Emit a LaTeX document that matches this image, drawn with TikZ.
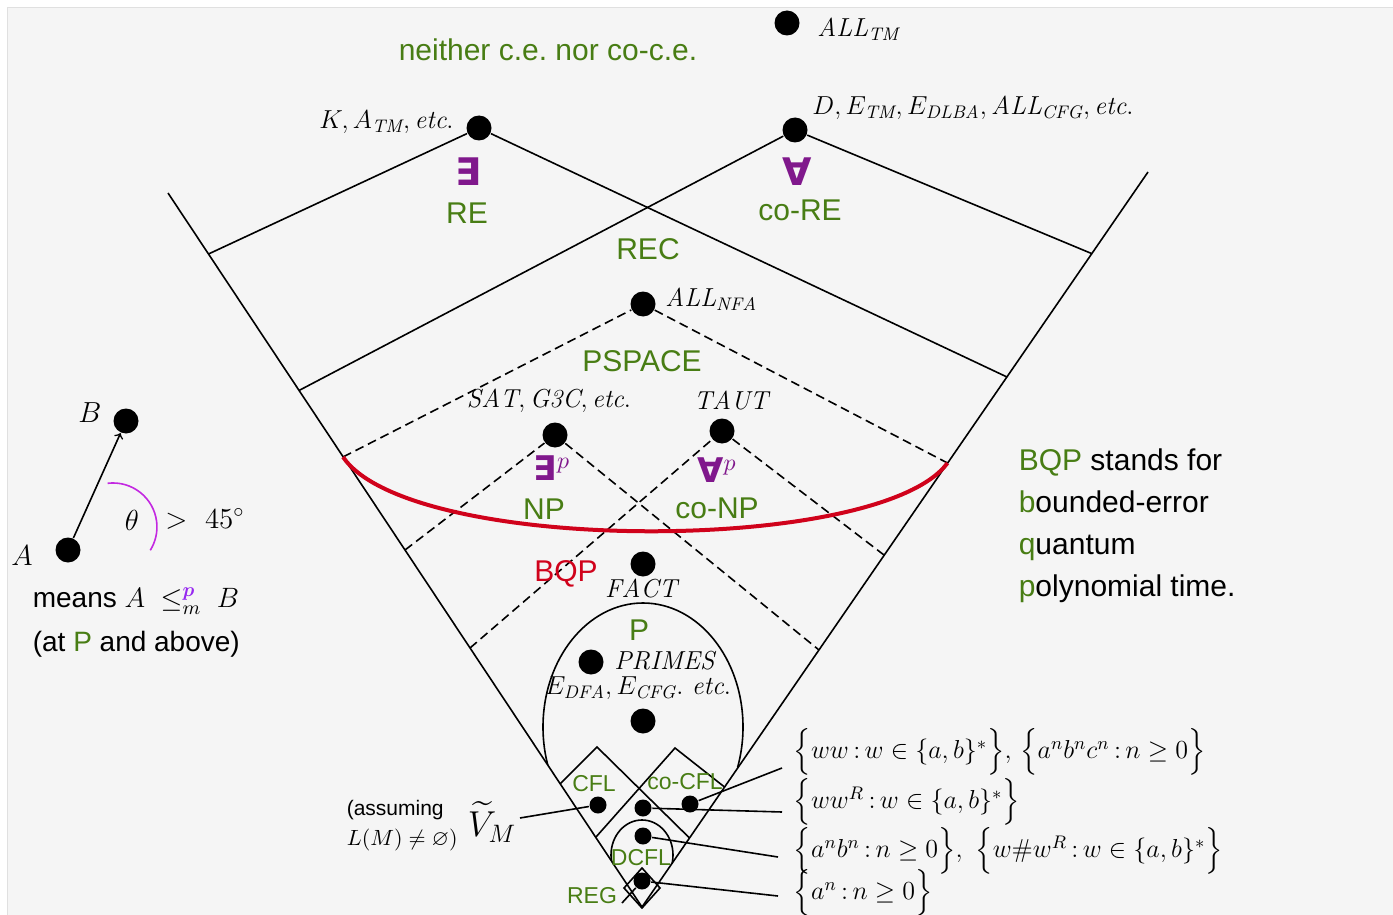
\RequirePackage{fix-cm}
\documentclass[tikz,border=0pt]{standalone}
\usepackage{amsmath,amssymb}
\usepackage{fontspec}
\usepackage{xcolor}
\usepackage{tikz}
\usetikzlibrary{calc,positioning}
\setsansfont{Liberation Sans}
\newfontfamily\quantfont{DejaVu Sans}

\definecolor{cegreen}{RGB}{72,125,20}
\definecolor{qpurple}{RGB}{128,24,140}
\definecolor{bqpred}{RGB}{208,2,27}
\definecolor{argviolet}{RGB}{150,40,240}
\definecolor{angmag}{RGB}{195,40,225}

\begin{document}
\begin{tikzpicture}[x=0.5pt, y=-0.5pt, line width=0.8pt,
    dot/.style={circle, fill, inner sep=0pt, minimum size=12.5pt},
    smalldot/.style={circle, fill, inner sep=0pt, minimum size=8.5pt},
    cls/.style={text=cegreen, font=\sffamily\fontsize{15}{18}\selectfont},
    subcls/.style={text=cegreen, font=\sffamily\fontsize{11.5}{14}\selectfont},
    quant/.style={text=qpurple, font=\quantfont\bfseries\fontsize{19}{22}\selectfont},
    pquant/.style={text=qpurple, font=\quantfont\bfseries\fontsize{17}{20}\selectfont},
    lang/.style={font=\fontsize{13}{16}\selectfont},
    setlang/.style={font=\fontsize{13}{16}\selectfont, anchor=west, inner sep=0pt},
    hier/.style={dash pattern=on 4.5pt off 2.5pt}]

    \useasboundingbox (0,0) rectangle (1393,915);
    \fill[black!4] (7,8) rectangle (1393,915);
    \draw[black!12, line width=0.5pt] (7,915) -- (7,8) -- (1393,8);

    % Dots
    \node[dot] (alltm) at (787,23) {};
    \node[dot] (k) at (479,128) {};
    \node[dot] (d) at (795,130) {};
    \node[dot] (allnfa) at (643,304) {};
    \node[dot] (sat) at (555,435) {};
    \node[dot] (taut) at (722,431) {};
    \node[dot] (fact) at (643,564) {};
    \node[dot] (primes) at (591,662) {};
    \node[dot] (edfa) at (643,721) {};
    \node[smalldot] (cfl) at (598,805) {};
    \node[smalldot] (wwr) at (643,808) {};
    \node[smalldot] (cocfl) at (690,804) {};
    \node[smalldot] (dcfl) at (643,836) {};
    \node[smalldot] (reg) at (642,881) {};

    % Cone
    \coordinate (vl) at (168,193);
    \coordinate (vb) at (642,907);
    \coordinate (vr) at (1148,172);
    \draw (vl) -- (vb) -- (vr);

    % RE, co-RE
    \coordinate (re-l) at (208.5,254);
    \coordinate (re-r) at (1007,377);
    \coordinate (core-l) at (299,390.5);
    \coordinate (core-r) at (1091.5,253.5);
    \draw (re-l) -- (k) -- (re-r);
    \draw (core-l) -- (d) -- (core-r);

    % PSPACE, NP, co-NP
    \coordinate (ps-l) at (343,457);
    \coordinate (ps-r) at (947.5,463);
    \coordinate (np-l) at (405,550);
    \coordinate (np-r) at (819,650);
    \coordinate (conp-l) at (470,648);
    \coordinate (conp-r) at (884,555);
    \draw[hier] (ps-l) -- (allnfa) -- (ps-r);
    \draw[hier] (np-l) -- (sat) -- (np-r);
    \draw[hier] (conp-l) -- (taut) -- (conp-r);

    % BQP
    \draw[bqpred, line width=2pt] (ps-l) .. controls (410,555) and (880,555) .. (ps-r);

    % P
    \begin{scope}
        \clip (vl) -- (vb) -- (vr) -- cycle;
        \clip (500,590) rectangle (790,766);
        \draw (643,727) ellipse [x radius=100, y radius=124];
    \end{scope}

    % CFL, co-CFL
    \coordinate (cfl-t) at (597,747);
    \coordinate (cfl-l) at (560.5,783.5);
    \coordinate (cfl-r) at (689.5,838);
    \coordinate (cocfl-t) at (675,748);
    \coordinate (cocfl-l) at (596,837);
    \coordinate (cocfl-r) at (724.5,787);
    \draw (cfl-l) -- (cfl-t) -- (cfl-r);
    \draw (cocfl-l) -- (cocfl-t) -- (cocfl-r);

    % DCFL
    \begin{scope}
        \clip (vl) -- (vb) -- (vr) -- cycle;
        \clip (600,815) rectangle (690,869);
        \draw (642,855) ellipse [x radius=31, y radius=35];
    \end{scope}

    % REG
    \draw (642,868) -- (660,888) -- (642,908) -- (624,888) -- cycle;

    % Class names
    \node[cls] (neither) at (548,50) {neither c.e.\ nor co-c.e.};
    \node[cls] (re) at (467,213) {RE};
    \node[cls] (core) at (800,210) {co-RE};
    \node[cls] (rec) at (648,249) {REC};
    \node[cls] (pspace) at (642,361) {PSPACE};
    \node[cls] (np) at (544,509) {NP};
    \node[cls] (conp) at (717,508) {co-NP};
    \node[cls] (p) at (639,630) {P};
    \node[cls, text=bqpred] (bqp) at (566,574) {BQP};
    \node[subcls] (cfl-lbl) at (594,784) {CFL};
    \node[subcls] (cocfl-lbl) at (685,782) {co-CFL};
    \node[subcls] (dcfl-lbl) at (641,858) {DCFL};
    \node[subcls] (reg-lbl) at (592,896) {REG};

    % Quantifiers
    \node[quant] (exists) at (468,172) {∃};
    \node[quant] (forall) at (797,172) {∀};
    \node[pquant] (existsp) at (552,468) {∃$^p$};
    \node[pquant] (forallp) at (717,470) {∀$^p$};

    % Languages
    \node[lang, anchor=west] (alltm-lbl) at (810,29) {$\mathit{ALL}_\mathit{TM}$};
    \node[lang, anchor=east] (k-lbl) at (461,122) {$K, A_\mathit{TM}, \mathit{etc.}$};
    \node[lang, anchor=west] (d-lbl) at (805,108) {$D, E_\mathit{TM}, E_\mathit{DLBA}, \mathit{ALL}_\mathit{CFG}, \mathit{etc.}$};
    \node[lang, anchor=west] (allnfa-lbl) at (658,299) {$\mathit{ALL}_\mathit{NFA}$};
    \node[lang] (sat-lbl) at (549,401) {$\mathit{SAT}, \mathit{G3C}, \mathit{etc.}$};
    \node[lang] (taut-lbl) at (731,400) {$\mathit{TAUT}$};
    \node[lang] (fact-lbl) at (641,588) {$\mathit{FACT}$};
    \node[lang, anchor=west] (primes-lbl) at (607,661) {$\mathit{PRIMES}$};
    \node[lang] (edfa-lbl) at (638,688) {$E_\mathit{DFA}, E_\mathit{CFG}.\ \mathit{etc.}$};

    % Small languages
    \node[setlang] (set1) at (793,752) {$\Big\{ww\,{:}\,w\in\{a,b\}^*\Big\},\,\Big\{a^n b^n c^n\,{:}\,n\geq 0\Big\}$};
    \node[setlang] (set2) at (793,802) {$\Big\{ww^R\,{:}\,w\in\{a,b\}^*\Big\}$};
    \node[setlang] (set3) at (793,851) {$\Big\{a^n b^n\,{:}\,n\geq 0\Big\},\ \Big\{w\#w^R\,{:}\,w\in\{a,b\}^*\Big\}$};
    \node[setlang] (set4) at (793,893) {$\Big\{a^n\,{:}\,n\geq 0\Big\}$};
    \coordinate (s1) at (782,768);
    \coordinate (s2) at (782,812);
    \coordinate (s3) at (778,857);
    \coordinate (s4) at (778,896);
    \draw (cocfl) -- (s1);
    \draw (wwr) -- (s2);
    \draw (dcfl) -- (s3);
    \draw (reg) -- (s4);

    % REG pointer
    \coordinate (reg-end) at (622,903);
    \draw (reg-end) -- (reg);

    % V_M
    \node[font=\sffamily\fontsize{10.5}{13}\selectfont, anchor=west, inner sep=0pt] (assume) at (346,810) {(assuming};
    \node[font=\fontsize{11}{13}\selectfont, anchor=west, inner sep=0pt] (nonempty) at (346,840) {$L(M)\neq\varnothing)$};
    \node[font=\fontsize{18}{20}\selectfont, inner sep=0pt] (vm) at (492,822) {$\widetilde{V}_M$};
    \coordinate (vm-end) at (520,818);
    \draw (vm-end) -- (cfl);

    % Legend
    \node[dot] (a) at (68,550) {};
    \node[dot] (b) at (126,421) {};
    \draw[->] (a) -- (b);
    \node[font=\fontsize{14.5}{17}\selectfont] (a-lbl) at (22,556) {$A$};
    \node[font=\fontsize{14.5}{17}\selectfont] (b-lbl) at (90,413) {$B$};
    \draw[angmag] (107.6,483.3) arc[start angle=-97, end angle=32, radius=44];
    \node[font=\fontsize{14.5}{17}\selectfont] (theta) at (132,520) {$\theta$};
    \node[font=\fontsize{14.5}{17}\selectfont] (angle) at (205,519) {$>\ 45^\circ$};
    \node[font=\sffamily\fontsize{14}{17}\selectfont, anchor=west, inner sep=0pt] (means) at (32,601)
        {means $A\ \leq^{\textcolor{argviolet}{\boldsymbol{p}}}_{m}\ B$};
    \node[font=\sffamily\fontsize{14}{17}\selectfont, anchor=west, inner sep=0pt] (atp) at (32,644)
        {(at \textcolor{cegreen}{P} and above)};

    % BQP note
    \node[font=\sffamily\fontsize{15}{21}\selectfont, anchor=north west, align=left, inner sep=0pt] (bqpnote) at (1018,448)
        {\textcolor{cegreen}{BQP} stands for\\ \textcolor{cegreen}{b}ounded-error\\ \textcolor{cegreen}{q}uantum\\ \textcolor{cegreen}{p}olynomial time.};
\end{tikzpicture}
\end{document}
